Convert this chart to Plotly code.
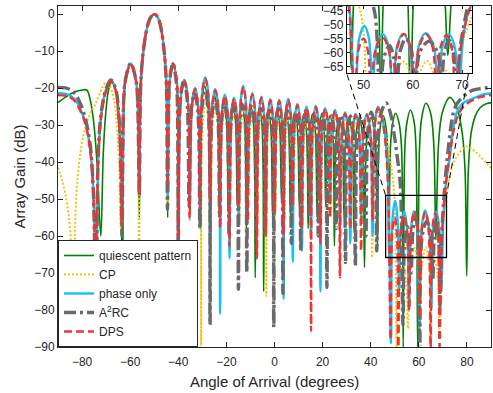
import plotly.graph_objects as go

# ---------------- tick labels / names ----------------
X_TICKS = [-80, -60, -40, -20, 0, 20, 40, 60, 80]
Y_TICKS = [0, -10, -20, -30, -40, -50, -60, -70, -80, -90]
INSET_X_TICKS = [50, 60, 70]
INSET_Y_TICKS = [-45, -50, -55, -60, -65]
NAMES = ["quiescent pattern", "CP", "phase only", "A<sup>2</sup>RC", "DPS"]

# shared main-lobe samples (angle, dB)
ANG_MAIN = [-55.6, -54.6, -53.05, -51.5, -49.9, -48.5, -47.15, -45.8, -44.95]
GAIN_MAIN = [-19.0, -10.5, -3.9, -0.9, 0.0, -0.9, -3.9, -10.5, -19.0]

# ---------------- quiescent pattern ----------------
ANG_Q = [-90, -86.5, -83, -80.5, -78.1, -76.5, -75.2, -73.8, -72.2, -71.2, -70.3, -69.0, -67.6, -66.0, -64.9, -63.9, -63.2,
         -62.5, -61.8, -59.8, -57.6, -56.9, -56.2] + ANG_MAIN + [
         -44.4, -43.95, -43.5, -42.2, -40.7, -40.25, -39.9, -38.9, -37.5, -36.1, -35.2,
         -34.4, -33.1, -31.8, -31.0, -30.2, -29.0, -27.8, -27.0, -26.2, -25.0, -23.8, -23.0,
         -22.2, -21.1, -20.0, -19.2, -18.45, -17.35, -16.25, -15.5, -14.75, -13.6, -12.45, -11.7,
         -10.95, -9.85, -8.75, -8.0, -7.3, -6.25, -5.2, -4.5, -3.75, -2.65, -1.55, -0.8,
         -0.05, 1.05, 2.15, 2.9, 3.65, 4.75, 5.85, 6.6, 7.35, 8.45, 9.55, 10.3,
         11.05, 12.15, 13.25, 14.0, 14.75, 15.85, 16.95, 17.7, 18.4, 19.5, 20.6, 21.3,
         22.0, 23.1, 24.2, 24.9, 25.7, 26.9, 28.1, 28.9, 29.7, 30.95, 32.2, 33.0,
         33.9, 35.2, 36.5, 37.4, 38.5, 40.1, 41.7, 42.8, 43.7, 45.15, 46.6, 47.5,
         48.2, 49.0, 50.3, 51.8, 52.8, 53.5, 54.2, 55.0, 56.5, 58.0, 58.8, 59.5,
         60.3, 61.2, 62.9, 64.8, 66.2, 67.1, 68.2, 69.8, 72.9, 75.8, 78.0, 79.2, 79.9,
         80.6, 81.8, 83.5, 85.5, 88.0, 90]
GAIN_Q = [-23.9, -22.3, -21.0, -20.6, -20.5, -23.5, -29.0, -40.0, -60.0, -38.0, -28.0, -20.5, -18.0, -20.5, -27.0, -40.0, -90.0,
          -23.8, -18.0, -13.3, -18.0, -23.8, -55.0] + GAIN_MAIN + [
          -55.0, -23.5, -17.8, -13.3, -17.8, -23.5, -60.0, -22.5, -17.8, -22.5, -55.0,
          -24.5, -20.0, -24.5, -50.0, -24.0, -19.5, -24.0, -48.0, -26.5, -22.0, -26.5, -52.0,
          -28.0, -23.5, -28.0, -55.0, -28.5, -24.0, -28.5, -52.0, -28.5, -24.0, -28.5, -58.0,
          -29.5, -25.0, -29.5, -71.3, -30.0, -25.5, -30.0, -75.0, -30.5, -26.0, -30.5, -55.0,
          -30.5, -26.0, -30.5, -50.0, -31.0, -26.5, -31.0, -55.0, -31.0, -26.5, -31.0, -52.0,
          -31.5, -27.0, -31.5, -58.0, -31.5, -27.0, -31.5, -55.0, -32.0, -27.5, -32.0, -52.0,
          -32.0, -27.5, -32.0, -62.7, -32.5, -28.0, -32.5, -55.0, -32.5, -28.0, -32.5, -58.0,
          -32.5, -28.0, -32.5, -68.5, -32.5, -28.0, -32.5, -62.7, -32.0, -27.5, -32.0, -66.0,
          -36.0, -30.0, -26.8, -29.5, -36.0, -90.0, -36.0, -29.5, -25.9, -29.0, -36.0, -90.0,
          -36.0, -28.0, -24.1, -26.5, -35.0, -61.0, -35.0, -26.5, -22.5, -25.3, -32.0, -42.0, -70.8,
          -42.0, -32.0, -27.5, -25.3, -24.2, -24.0]

# ---------------- CP ----------------
ANG_CP = [-90, -88.0, -86.3, -85.0, -84.2, -83.6, -82.8, -81.5, -79.5, -77.0, -74.2, -72.0, -70.3, -68.6, -66.6, -65.3, -64.4, -63.9,
          -62.9, -61.8, -59.8, -57.6, -56.9, -56.3] + ANG_MAIN + [
          -44.5, -43.95, -43.5, -42.2, -40.7, -40.25, -39.9, -38.9, -37.5, -36.1, -35.3,
          -34.5, -33.0, -31.5, -30.5, -29.7, -28.5, -27.3, -26.5, -25.7, -24.45, -23.2, -22.4,
          -21.6, -20.45, -19.3, -18.5, -17.7, -16.55, -15.4, -14.6, -13.8, -12.7, -11.6, -10.8,
          -10.0, -8.9, -7.8, -7.0, -6.3, -5.2, -4.1, -3.4, -2.6, -1.5, -0.4, 0.4,
          1.15, 2.25, 3.35, 4.1, 4.9, 6.0, 7.1, 7.9, 8.7, 9.8, 10.9, 11.7,
          12.5, 13.6, 14.7, 15.5, 16.3, 17.45, 18.6, 19.4, 20.2, 21.4, 22.6, 23.4,
          24.2, 25.45, 26.7, 27.5, 28.4, 29.65, 30.9, 31.8, 32.7, 34.05, 35.4, 36.3,
          37.2, 38.45, 39.7, 40.6, 41.6, 43.2, 44.5, 45.5, 46.5, 47.8, 49.3, 50.1, 50.8,
          51.6, 53.5, 54.7, 55.5, 56.5, 58.1, 59.6, 60.3, 61.3, 62.9, 64.2, 64.9,
          65.6, 66.7, 67.8, 68.5, 69.5, 70.5, 71.5, 73.5, 75.7, 79.9, 84.0, 87.0, 90]
GAIN_CP = [-41.5, -45.5, -51.0, -58.0, -70.0, -90.0, -55.0, -42.0, -33.0, -27.5, -24.0, -20.5, -18.6, -19.4, -23.6, -32.5, -45.0, -58.0,
           -24.0, -18.2, -13.5, -18.2, -24.0, -90.0] + GAIN_MAIN + [
           -52.0, -23.5, -17.8, -13.3, -17.8, -23.5, -90.0, -23.0, -18.3, -23.0, -50.0,
           -25.0, -20.5, -25.0, -90.0, -28.5, -24.0, -28.5, -50.0, -29.5, -25.0, -29.5, -48.0,
           -29.5, -25.0, -29.5, -52.0, -30.0, -25.5, -30.0, -55.0, -30.0, -25.5, -30.0, -50.0,
           -30.5, -26.0, -30.5, -55.0, -30.5, -26.0, -30.5, -76.2, -30.5, -26.0, -30.5, -52.0,
           -31.0, -26.5, -31.0, -55.0, -31.0, -26.5, -31.0, -50.0, -31.5, -27.0, -31.5, -55.0,
           -31.5, -27.0, -31.5, -52.0, -32.0, -27.5, -32.0, -58.0, -32.0, -27.5, -32.0, -55.0,
           -32.5, -28.0, -32.5, -55.0, -32.5, -28.0, -32.5, -58.0, -32.5, -28.0, -32.5, -55.0,
           -32.0, -27.5, -32.0, -65.8, -31.0, -26.5, -28.0, -31.0, -33.5, -38.5, -45.0, -55.0, -90.0,
           -72.0, -68.0, -72.0, -85.0, -68.0, -63.2, -68.0, -85.0, -68.0, -63.0, -68.0, -90.0,
           -70.0, -66.5, -70.0, -85.0, -62.0, -54.0, -49.2, -42.0, -38.5, -35.8, -37.5, -39.5, -41.6]

# ---------------- phase only ----------------
ANG_PO = [-90, -86, -83, -80.5, -78.5, -76.5, -75.2, -74.3, -73.2, -72.0, -70.1, -68.0, -66.0, -64.8, -64.0, -63.4,
          -62.7, -62.0, -59.8, -57.6, -56.9, -56.2] + ANG_MAIN + [
          -44.4, -43.95, -43.5, -42.2, -40.7, -40.25, -39.8, -38.9, -37.5, -36.1, -35.2,
          -34.3, -33.0, -31.8, -30.9, -30.1, -28.8, -27.5, -26.7, -25.9, -24.65, -23.4, -22.6,
          -21.8, -20.65, -19.5, -18.7, -17.9, -16.8, -15.7, -14.9, -14.1, -13.0, -11.9, -11.1,
          -10.3, -9.2, -8.1, -7.3, -6.5, -5.45, -4.4, -3.6, -2.8, -1.75, -0.7, 0.1,
          0.9, 1.95, 3.0, 3.8, 4.6, 5.7, 6.8, 7.6, 8.4, 9.5, 10.6, 11.4,
          12.2, 13.3, 14.4, 15.2, 16.0, 17.15, 18.3, 19.1, 19.9, 21.1, 22.3, 23.1,
          23.9, 25.15, 26.4, 27.2, 28.1, 29.35, 30.6, 31.5, 32.4, 33.75, 35.1, 36.0,
          37.0, 38.4, 39.8, 40.8, 41.7, 43.0, 44.6, 46.0, 47.2, 48.4,
          49.1, 50.2, 51.1, 51.8, 52.6, 53.9, 55.1, 55.9, 56.8, 58.0, 59.3, 60.2,
          61.2, 62.6, 64.2, 65.2, 66.0, 67.3, 68.5, 69.3,
          70.2, 71.2, 72.9, 74.3, 75.7, 77.3, 79.2, 83.3, 86.5, 90]
GAIN_PO = [-21.4, -21.7, -23.0, -26.0, -29.5, -37.0, -50.0, -90.0, -38.0, -27.0, -20.5, -18.0, -20.5, -27.0, -38.0, -57.0,
           -23.5, -17.8, -13.3, -17.8, -23.5, -49.0] + GAIN_MAIN + [
           -50.0, -23.5, -17.8, -13.3, -17.8, -23.5, -65.0, -22.3, -17.8, -22.3, -52.0,
           -24.5, -20.0, -24.5, -58.0, -21.6, -17.1, -21.6, -62.0, -24.8, -20.3, -24.8, -81.0,
           -26.3, -21.8, -26.3, -66.0, -27.1, -22.6, -27.1, -55.0, -23.9, -19.4, -23.9, -48.0,
           -25.9, -21.4, -25.9, -45.0, -26.8, -22.3, -26.8, -55.0, -27.5, -23.0, -27.5, -50.0,
           -27.7, -23.2, -27.7, -77.0, -27.4, -22.9, -27.4, -67.0, -28.8, -24.3, -28.8, -64.0,
           -29.5, -25.0, -29.5, -60.0, -29.3, -24.8, -29.3, -75.0, -29.9, -25.4, -29.9, -50.0,
           -30.4, -25.9, -30.4, -58.0, -31.1, -26.6, -31.1, -62.0, -31.5, -27.0, -31.5, -55.0,
           -31.5, -27.0, -31.5, -60.0, -29.5, -25.0, -27.5, -33.0, -45.0, -89.0,
           -55.0, -50.5, -55.0, -75.0, -57.9, -53.4, -57.9, -80.0, -57.8, -53.3, -57.8, -85.0,
           -57.6, -53.1, -57.6, -80.0, -57.9, -53.4, -57.9, -75.0,
           -55.0, -46.0, -38.6, -31.0, -26.8, -24.8, -23.7, -22.6, -21.8, -21.4]

# ---------------- A2RC ----------------
ANG_A2 = [-90, -86, -83, -80.5, -78.5, -76.5, -75.2, -74.3, -73.2, -72.0, -70.1, -68.0, -66.0, -64.8, -64.0, -63.4,
          -62.7, -62.0, -59.8, -57.6, -56.9, -56.2] + ANG_MAIN + [
          -44.5, -43.95, -43.6, -42.2, -40.9, -40.4, -40.0, -39.1, -37.6, -36.4, -35.5,
          -34.6, -33.2, -31.9, -31.0, -30.2, -28.9, -27.6, -26.8, -26.0, -24.8, -23.6, -22.8,
          -22.0, -20.85, -19.7, -18.9, -18.1, -16.95, -15.8, -15.0, -14.3, -13.25, -12.2, -11.5,
          -10.7, -9.55, -8.4, -7.6, -6.9, -5.75, -4.6, -3.9, -3.2, -2.1, -1.0, -0.3,
          0.5, 1.6, 2.7, 3.5, 4.2, 5.25, 6.3, 7.0, 7.8, 8.95, 10.1, 10.9,
          11.6, 12.7, 13.8, 14.5, 15.2, 16.35, 17.5, 18.2, 18.9, 20.0, 21.1, 21.8,
          22.6, 23.7, 24.8, 25.6, 26.4, 27.55, 28.7, 29.5, 30.3, 31.55, 32.8, 33.6,
          34.5, 35.8, 37.1, 38.0, 38.9, 40.25, 41.6, 42.5,
          43.3, 44.5, 46.4, 48.0, 49.5, 51.0, 52.3, 53.4,
          54.1, 55.3, 56.1, 56.8, 57.5, 58.6, 59.7, 60.4, 61.4, 63.3, 65.0, 65.8,
          66.4, 67.3, 68.2, 68.8, 69.5, 70.2, 71.2, 72.2, 73.2, 74.3, 75.6, 77.1, 81.2, 85.0, 90]
GAIN_A2 = [-19.8, -20.1, -21.5, -24.5, -28.5, -36.0, -50.0, -80.0, -37.0, -26.5, -20.3, -17.8, -20.3, -26.5, -37.0, -60.0,
           -23.5, -17.8, -13.3, -17.8, -23.5, -49.0] + GAIN_MAIN + [
           -52.8, -23.5, -17.8, -13.3, -17.8, -23.5, -90.0, -22.5, -18.0, -22.5, -52.0,
           -26.0, -21.5, -26.0, -58.0, -25.5, -21.0, -25.5, -84.0, -27.5, -23.0, -27.5, -55.0,
           -29.0, -24.5, -29.0, -60.0, -29.5, -25.0, -29.5, -74.4, -29.0, -24.5, -29.0, -69.8,
           -29.5, -25.0, -29.5, -58.0, -30.0, -25.5, -30.0, -60.0, -30.5, -26.0, -30.5, -84.7,
           -30.0, -25.5, -30.0, -75.5, -30.5, -26.0, -30.5, -62.0, -31.0, -26.5, -31.0, -64.0,
           -31.0, -26.5, -31.0, -55.0, -31.5, -27.0, -31.5, -60.0, -31.5, -27.0, -31.5, -73.9,
           -32.0, -27.5, -32.0, -58.0, -32.0, -27.5, -32.0, -67.2, -32.0, -27.5, -32.0, -68.0,
           -32.0, -27.5, -32.0, -60.0, -31.0, -26.5, -31.0, -64.0,
           -31.0, -26.3, -24.0, -26.3, -31.5, -38.5, -46.0, -84.0,
           -62.0, -57.5, -62.0, -70.0, -59.0, -55.0, -59.0, -90.0, -60.0, -56.0, -60.0, -72.0,
           -60.0, -55.5, -60.0, -79.0, -60.0, -51.9, -43.0, -36.7, -31.0, -26.8, -24.5, -23.2, -20.9, -20.2, -19.8]

# ---------------- DPS ----------------
ANG_DPS = [-90, -86, -83, -80.5, -78.5, -76.5, -75.2, -74.4, -73.2, -72.0, -70.1, -68.0, -66.0, -64.8, -64.0, -63.6,
           -62.7, -62.0, -59.8, -57.6, -56.9, -56.2] + ANG_MAIN + [
           -44.4, -43.95, -43.5, -42.2, -40.7, -40.25, -39.8, -38.9, -37.5, -36.1, -35.3,
           -34.3, -33.0, -31.8, -30.9, -30.1, -28.8, -27.5, -26.7, -25.9, -24.65, -23.4, -22.6,
           -21.8, -20.65, -19.5, -18.7, -17.9, -16.8, -15.7, -14.9, -14.1, -13.0, -11.9, -11.1,
           -10.3, -9.2, -8.1, -7.3, -6.5, -5.45, -4.4, -3.6, -2.8, -1.75, -0.7, 0.1,
           0.9, 1.95, 3.0, 3.8, 4.6, 5.7, 6.8, 7.6, 8.4, 9.5, 10.6, 11.4,
           12.2, 13.3, 14.4, 15.2, 16.0, 17.15, 18.3, 19.1, 19.9, 21.1, 22.3, 23.1,
           23.9, 25.15, 26.4, 27.2, 28.1, 29.35, 30.6, 31.5, 32.4, 33.75, 35.1, 36.0,
           37.0, 38.4, 39.8, 40.8, 41.7, 43.0, 44.6, 46.0, 47.2, 48.3,
           48.9, 50.0, 50.9, 51.5, 52.4, 53.8, 55.1, 56.0, 56.9, 58.2, 59.5, 60.4,
           61.3, 62.7, 64.0, 64.9, 65.6, 66.8, 67.9, 68.6,
           69.6, 70.6, 71.8, 73.5, 75.0, 76.4, 78.5, 81.2, 85.0, 90]
GAIN_DPS = [-21.9, -22.2, -23.5, -26.5, -30.0, -37.5, -50.0, -67.0, -38.5, -27.5, -21.0, -18.2, -20.8, -27.5, -38.5, -56.9,
            -23.8, -18.0, -13.5, -18.0, -23.8, -49.0] + GAIN_MAIN + [
            -46.5, -23.5, -17.8, -13.3, -17.8, -23.5, -90.0, -22.5, -18.0, -22.5, -55.5,
            -24.8, -20.3, -24.8, -52.0, -21.9, -17.4, -21.9, -50.0, -25.1, -20.6, -25.1, -58.0,
            -26.6, -22.1, -26.6, -62.7, -27.4, -22.9, -27.4, -52.0, -24.2, -19.7, -24.2, -56.0,
            -26.2, -21.7, -26.2, -66.0, -27.1, -22.6, -27.1, -60.0, -27.8, -23.3, -27.8, -54.0,
            -28.0, -23.5, -28.0, -60.0, -27.7, -23.2, -27.7, -52.0, -29.1, -24.6, -29.1, -58.0,
            -29.8, -25.3, -29.8, -85.6, -29.6, -25.1, -29.6, -62.0, -30.2, -25.7, -30.2, -55.0,
            -30.7, -26.2, -30.7, -71.2, -31.4, -26.9, -31.4, -58.0, -31.8, -27.3, -31.8, -64.0,
            -31.8, -27.3, -31.8, -56.0, -30.0, -25.5, -28.0, -34.0, -47.0, -88.0,
            -59.5, -55.0, -59.5, -90.0, -59.0, -54.5, -59.0, -80.0, -57.8, -53.3, -57.8, -82.0,
            -58.0, -53.5, -58.0, -90.0, -58.3, -53.8, -58.3, -90.0,
            -60.0, -50.0, -43.0, -35.0, -30.0, -27.2, -25.0, -23.7, -22.5, -21.9]

SERIES = [(ANG_Q, GAIN_Q), (ANG_CP, GAIN_CP), (ANG_PO, GAIN_PO), (ANG_A2, GAIN_A2), (ANG_DPS, GAIN_DPS)]
STYLES = [
    dict(color="#008000", width=1.6, dash="solid"),
    dict(color="#F2C40C", width=2.0, dash="2px,2px"),
    dict(color="#18C0F5", width=2.4, dash="solid"),
    dict(color="#6A6A6A", width=3.4, dash="12px,4px,3px,4px"),
    dict(color="#EE3535", width=2.4, dash="8px,4px"),
]

fig = go.Figure()
for (ang, gain), name, st in zip(SERIES, NAMES, STYLES):
    fig.add_trace(go.Scatter(x=ang, y=gain, mode="lines", name=name,
                             line=dict(shape="spline", smoothing=1.0, **st),
                             xaxis="x", yaxis="y", hoverinfo="skip"))
for (ang, gain), name, st in zip(SERIES, NAMES, STYLES):
    fig.add_trace(go.Scatter(x=ang, y=gain, mode="lines", name=name, showlegend=False,
                             line=dict(shape="spline", smoothing=1.0, **st),
                             xaxis="x2", yaxis="y2", hoverinfo="skip"))

axis_common = dict(showgrid=False, zeroline=False, showline=True, linecolor="#262626", linewidth=1,
                   ticks="inside", ticklen=5, tickcolor="#262626", mirror="ticks",
                   tickfont=dict(size=12, color="#262626"))
inset_axis = {**axis_common, "linecolor": "black", "ticklen": 3}

fig.update_layout(
    width=493, height=393,
    margin=dict(l=58, r=2, t=6, b=46),
    template="none",
    paper_bgcolor="white", plot_bgcolor="white",
    font=dict(family="Liberation Sans, Arial, sans-serif", color="#262626"),
    xaxis=dict(domain=[0, 1], range=[-90, 90], tickvals=X_TICKS, ticklabelstandoff=4,
               title=dict(text="Angle of Arrival (degrees)", font=dict(size=15), standoff=8), **axis_common),
    yaxis=dict(domain=[0, 1], range=[-90, 2.2], tickvals=Y_TICKS,
               title=dict(text="Array Gain (dB)", font=dict(size=15), standoff=4), **axis_common),
    xaxis2=dict(domain=[0.667, 0.956], anchor="y2", range=[46.6, 72.0], tickvals=INSET_X_TICKS, **inset_axis),
    yaxis2=dict(domain=[0.803, 1.0], anchor="x2", range=[-67.4, -43.3], tickvals=INSET_Y_TICKS, **inset_axis),
    legend=dict(x=0, y=0, xanchor="left", yanchor="bottom", bgcolor="white",
                bordercolor="#262626", borderwidth=1, font=dict(size=12, color="#262626"),
                tracegroupgap=0),
    shapes=[
        dict(type="rect", xref="x", yref="y", x0=46.2, x1=71.5, y0=-65.8, y1=-49.0,
             line=dict(color="black", width=1.3)),
        dict(type="line", xref="x", yref="y", x0=30.2, y0=-16.4, x1=46.2, y1=-49.0,
             line=dict(color="black", width=1, dash="6px,4px")),
        dict(type="line", xref="x", yref="y", x0=80.6, y0=-16.2, x1=71.5, y1=-49.0,
             line=dict(color="black", width=1, dash="6px,4px")),
    ],
)

fig.write_html("out.html", config={"displayModeBar": False, "staticPlot": True},
               post_script="document.body.style.margin='0';")
